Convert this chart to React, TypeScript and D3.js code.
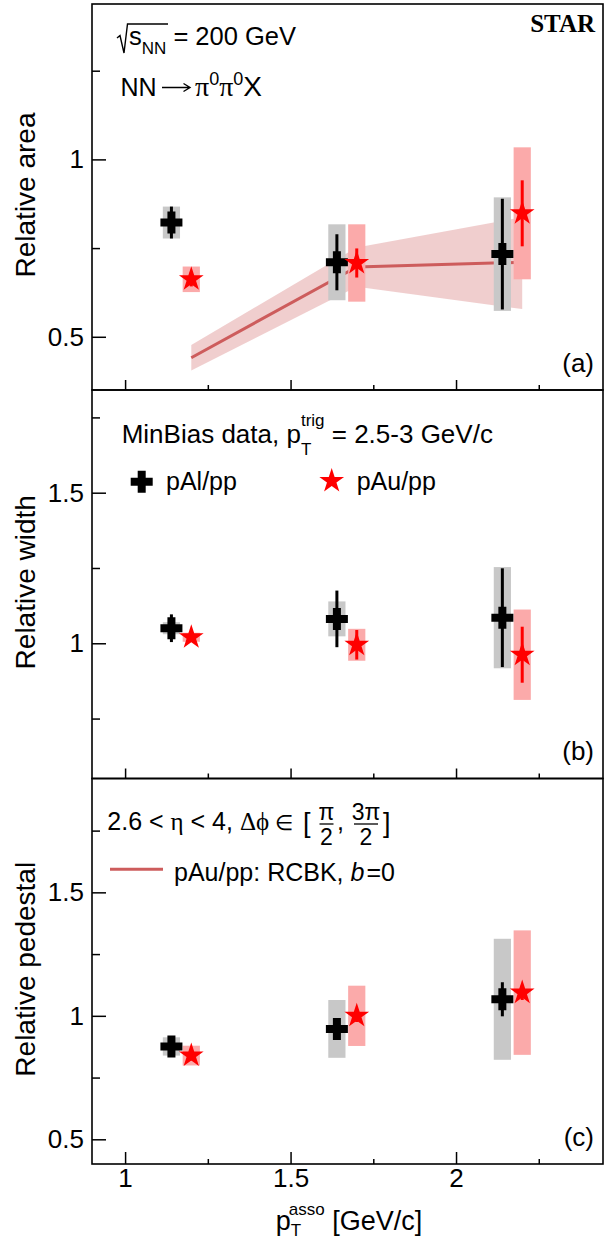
import React, { useRef, useEffect } from 'react';
import * as d3 from 'd3';

const WIDTH = 613;
const HEIGHT = 1240;

// p_T^asso bin positions (pAl and pAu drawn slightly apart)
const xAl = [1.14, 1.64, 2.14];
const xAu = [1.2, 1.7, 2.2];

// (a) relative area
const alArea = [0.822, 0.71, 0.733];
const alAreaStat = [0.045, 0.079, 0.156];
const alAreaSys = [0.045, 0.107, 0.16];
const auArea = [0.662, 0.708, 0.848];
const auAreaStat = [0.02, 0.041, 0.093];
const auAreaSys = [0.036, 0.109, 0.186];

// RCBK calculation for pAu/pp, b=0 (line + band)
const rcbkX = [1.2, 1.7, 2.2];
const rcbkY = [0.441, 0.697, 0.71];
const rcbkLo = [0.405, 0.641, 0.578];
const rcbkHi = [0.477, 0.752, 0.837];

// (b) relative width
const alWidth = [1.05, 1.081, 1.085];
const alWidthStat = [0.046, 0.094, 0.164];
const alWidthSys = [0.02, 0.058, 0.168];
const auWidth = [1.02, 0.995, 0.962];
const auWidthStat = [0.015, 0.049, 0.093];
const auWidthSys = [0.015, 0.053, 0.15];

// (c) relative pedestal
const alPed = [0.876, 0.947, 1.067];
const alPedStat = [0.03, 0.03, 0.069];
const alPedSys = [0.037, 0.117, 0.245];
const auPed = [0.839, 1.0, 1.094];
const auPedStat = [0.02, 0.025, 0.03];
const auPedSys = [0.04, 0.122, 0.252];

const xMajor = [1, 1.5, 2];
const xMinor = [1.25, 1.75, 2.25];

const SANS = '"Liberation Sans", Arial, Helvetica, sans-serif';
const SERIF = '"Liberation Serif", "Times New Roman", serif';
const RED = '#ff0000';
const MODEL = '#cd5c5c';

const panels = [
  {
    id: 'a', title: 'Relative area', top: 4, bottom: 390, domain: [0.35, 1.438], xTick: 10,
    al: alArea, alStat: alAreaStat, alSys: alAreaSys,
    au: auArea, auStat: auAreaStat, auSys: auAreaSys, model: true,
  },
  {
    id: 'b', title: 'Relative width', top: 390, bottom: 778.5, domain: [0.551, 1.841], xTick: 10,
    al: alWidth, alStat: alWidthStat, alSys: alWidthSys,
    au: auWidth, auStat: auWidthStat, auSys: auWidthSys, model: false,
  },
  {
    id: 'c', title: 'Relative pedestal', top: 778.5, bottom: 1164, domain: [0.4, 1.961], xTick: 12,
    al: alPed, alStat: alPedStat, alSys: alPedSys,
    au: auPed, auStat: auPedStat, auSys: auPedSys, model: false,
  },
];

// thick "+" marker (ROOT style 34)
const crossPath = (s, t) => {
  const a = s / 2, b = t / 2;
  return `M${-b},${-a}H${b}V${-b}H${a}V${b}H${b}V${a}H${-b}V${b}H${-a}V${-b}H${-b}Z`;
};
const starPath = d3.symbol().type(d3.symbolStar).size(190)();

// text with sub/superscript pieces
const richText = (g, x, y, parts, anchor = 'start', size = 25) => {
  const t = g.append('text')
    .attr('x', x).attr('y', y)
    .attr('text-anchor', anchor)
    .attr('font-family', SANS)
    .attr('font-size', size)
    .attr('fill', '#000');
  parts.forEach(p => {
    const s = t.append('tspan').text(p.t);
    if (p.size) s.attr('font-size', p.size);
    if (p.dy) s.attr('dy', p.dy);
    if (p.dx) s.attr('dx', p.dx);
    if (p.serif) s.attr('font-family', SERIF);
    if (p.italic) s.attr('font-style', 'italic');
  });
  return t;
};

const App = () => {
  const svgRef = useRef(null);

  useEffect(() => {
    document.body.style.margin = '0';
    if (!svgRef.current) return;
    const svg = d3.select(svgRef.current);
    svg.selectAll('*').remove();

    const x = d3.scaleLinear().domain([0.9, 2.4441]).range([92, 603]);
    const halfBox = 0.026;

    panels.forEach(p => {
      const y = d3.scaleLinear().domain(p.domain).range([p.bottom, p.top]);
      const g = svg.append('g');

      // RCBK band + line
      if (p.model) {
        const band = d3.area()
          .x(i => x(rcbkX[i]))
          .y0(i => y(rcbkLo[i]))
          .y1(i => y(rcbkHi[i]));
        g.append('path')
          .datum(d3.range(rcbkX.length))
          .attr('d', band)
          .attr('fill', MODEL)
          .attr('fill-opacity', 0.3);
        const line = d3.line()
          .x(i => x(rcbkX[i]))
          .y(i => y(rcbkY[i]));
        g.append('path')
          .datum(d3.range(rcbkX.length))
          .attr('d', line)
          .attr('fill', 'none')
          .attr('stroke', MODEL)
          .attr('stroke-width', 3);
      }

      // systematic boxes
      const boxes = (xs, vals, sys, fill) => {
        g.selectAll(null)
          .data(d3.range(xs.length))
          .enter()
          .append('rect')
          .attr('x', i => x(xs[i] - halfBox))
          .attr('width', i => x(xs[i] + halfBox) - x(xs[i] - halfBox))
          .attr('y', i => y(vals[i] + sys[i]))
          .attr('height', i => y(vals[i] - sys[i]) - y(vals[i] + sys[i]))
          .attr('fill', fill);
      };
      boxes(xAl, p.al, p.alSys, '#c8c8c8');
      boxes(xAu, p.au, p.auSys, '#fbaaaa');

      // statistical error bars
      const bars = (xs, vals, stat, color) => {
        g.selectAll(null)
          .data(d3.range(xs.length))
          .enter()
          .append('line')
          .attr('x1', i => x(xs[i]))
          .attr('x2', i => x(xs[i]))
          .attr('y1', i => y(vals[i] + stat[i]))
          .attr('y2', i => y(vals[i] - stat[i]))
          .attr('stroke', color)
          .attr('stroke-width', 3);
      };
      bars(xAl, p.al, p.alStat, '#000');
      bars(xAu, p.au, p.auStat, RED);

      // markers
      g.selectAll(null)
        .data(d3.range(xAl.length))
        .enter()
        .append('path')
        .attr('d', crossPath(22, 8))
        .attr('transform', i => `translate(${x(xAl[i])},${y(p.al[i])})`)
        .attr('fill', '#000');
      g.selectAll(null)
        .data(d3.range(xAu.length))
        .enter()
        .append('path')
        .attr('d', starPath)
        .attr('transform', i => `translate(${x(xAu[i])},${y(p.au[i])})`)
        .attr('fill', RED);

      // y axis: major ticks with labels, minor ticks, both pointing inward
      const [lo, hi] = p.domain;
      const major = d3.range(0.5, 2.01, 0.5).filter(v => v >= lo && v <= hi);
      const minor = d3.range(0.25, 2.01, 0.5).filter(v => v >= lo && v <= hi);
      const yAxis = g.append('g')
        .attr('transform', 'translate(92,0)')
        .call(d3.axisLeft(y).tickValues(major).tickSizeInner(-14).tickSizeOuter(0).tickPadding(8)
          .tickFormat(d => d3.format('')(d)));
      yAxis.select('.domain').remove();
      yAxis.selectAll('line').attr('stroke', '#000').attr('stroke-width', 1.5);
      yAxis.selectAll('text').attr('font-family', SANS).attr('font-size', 26).attr('fill', '#000');
      const yMinor = g.append('g')
        .attr('transform', 'translate(92,0)')
        .call(d3.axisLeft(y).tickValues(minor).tickSizeInner(-8).tickSizeOuter(0).tickFormat(() => ''));
      yMinor.select('.domain').remove();
      yMinor.selectAll('line').attr('stroke', '#000').attr('stroke-width', 1.5);

      // x axis at the bottom of each panel
      const xAxis = g.append('g')
        .attr('transform', `translate(0,${p.bottom})`)
        .call(d3.axisBottom(x).tickValues(xMajor).tickSizeInner(-p.xTick).tickSizeOuter(0).tickPadding(5)
          .tickFormat(d => (p.id === 'c' ? d3.format('')(d) : '')));
      xAxis.select('.domain').remove();
      xAxis.selectAll('line').attr('stroke', '#000').attr('stroke-width', 1.5);
      xAxis.selectAll('text').attr('font-family', SANS).attr('font-size', 26).attr('fill', '#000');
      const xMin = g.append('g')
        .attr('transform', `translate(0,${p.bottom})`)
        .call(d3.axisBottom(x).tickValues(xMinor).tickSizeInner(-5).tickSizeOuter(0).tickFormat(() => ''));
      xMin.select('.domain').remove();
      xMin.selectAll('line').attr('stroke', '#000').attr('stroke-width', 1.5);

      // frame
      g.append('rect')
        .attr('x', 92).attr('y', p.top)
        .attr('width', 603 - 92).attr('height', p.bottom - p.top)
        .attr('fill', 'none')
        .attr('stroke', '#000')
        .attr('stroke-width', 1.6);

      // y title
      g.append('text')
        .attr('transform', `translate(35,${(p.top + p.bottom) / 2 - 2}) rotate(-90)`)
        .attr('text-anchor', 'middle')
        .attr('font-family', SANS)
        .attr('font-size', 28)
        .text(p.title);

      // panel tag
      g.append('text')
        .attr('x', 594).attr('y', p.bottom - 18.5)
        .attr('text-anchor', 'end')
        .attr('font-family', SANS)
        .attr('font-size', 26)
        .text(`(${p.id})`);
    });

    const ann = svg.append('g');

    // panel (a) annotations
    ann.append('text')
      .attr('x', 595).attr('y', 32)
      .attr('text-anchor', 'end')
      .attr('font-family', SERIF)
      .attr('font-weight', 'bold')
      .attr('font-size', 25)
      .text('STAR');
    ann.append('path')
      .attr('d', 'M117,38 L120,35.5 L124,53 L127.5,24 L168,24')
      .attr('fill', 'none')
      .attr('stroke', '#000')
      .attr('stroke-width', 1.4);
    richText(ann, 129, 45, [
      { t: 's' },
      { t: 'NN', size: 17, dy: 9 },
      { t: ' = 200 GeV', dy: -9 },
    ], 'start', 25.5);
    richText(ann, 120.5, 95.7, [{ t: 'NN' }]);
    // long arrow of NN -> pi0 pi0 X
    ann.append('path')
      .attr('d', 'M162,87.5 H189 M183.5,83.5 L190,87.5 L183.5,91.5')
      .attr('fill', 'none')
      .attr('stroke', '#000')
      .attr('stroke-width', 1.4);
    richText(ann, 195, 95.7, [
      { t: '\u03c0', serif: true },
      { t: '0', size: 18, dy: -11 },
      { t: '\u03c0', serif: true, dy: 11 },
      { t: '0', size: 18, dy: -11 },
      { t: 'X', dy: 11 },
    ], 'start', 28);

    // panel (b) annotations and legend
    richText(ann, 121.7, 442.7, [
      { t: 'MinBias data, p' },
      { t: 'T', size: 17, dy: 12 },
      { t: 'trig', size: 17, dx: -10.4, dy: -29 },
      { t: ' = 2.5-3 GeV/c', dy: 17 },
    ], 'start', 26);
    ann.append('path')
      .attr('d', crossPath(22, 8))
      .attr('transform', 'translate(141.7,481.7)')
      .attr('fill', '#000');
    richText(ann, 166, 490, [{ t: 'pAl/pp' }]);
    ann.append('path')
      .attr('d', starPath)
      .attr('transform', 'translate(331.7,481)')
      .attr('fill', RED);
    richText(ann, 356.7, 490, [{ t: 'pAu/pp' }]);

    // panel (c) annotations and legend
    richText(ann, 107.3, 830, [
      { t: '2.6 < ' },
      { t: '\u03b7', serif: true },
      { t: ' < 4, ' },
      { t: '\u0394\u03d5 ', serif: true },
      { t: '\u2208', serif: true, size: 21 },
    ]);
    richText(ann, 303, 832, [{ t: '[' }], 'start', 27);
    const frac = (cx, num, den) => {
      richText(ann, cx, 820, [{ t: num }], 'middle', 23);
      ann.append('line')
        .attr('x1', cx - (num.length > 1 ? 12 : 7)).attr('x2', cx + (num.length > 1 ? 12 : 7))
        .attr('y1', 824).attr('y2', 824)
        .attr('stroke', '#000').attr('stroke-width', 1.3);
      richText(ann, cx, 845, [{ t: den }], 'middle', 23);
    };
    frac(326.5, '\u03c0', '2');
    richText(ann, 337, 830, [{ t: ',' }]);
    frac(366, '3\u03c0', '2');
    richText(ann, 383, 832, [{ t: ']' }], 'start', 27);
    ann.append('line')
      .attr('x1', 110).attr('x2', 163)
      .attr('y1', 869.3).attr('y2', 869.3)
      .attr('stroke', MODEL)
      .attr('stroke-width', 3);
    richText(ann, 174, 880.7, [
      { t: 'pAu/pp: RCBK, ' },
      { t: 'b', italic: true },
      { t: '=0', dx: 2 },
    ]);

    // x axis title
    richText(ann, 349, 1230, [
      { t: 'p', size: 27 },
      { t: 'T', size: 17, dy: 6 },
      { t: 'asso', size: 17, dx: -10.4, dy: -21 },
      { t: ' [GeV/c]', size: 27, dy: 15 },
    ], 'middle');
  }, []);

  return (
    <div style={{ position: 'absolute', left: 0, top: 0 }}>
      <svg ref={svgRef} width={WIDTH} height={HEIGHT} style={{ display: 'block', background: '#fff' }} />
    </div>
  );
};

export default App;
